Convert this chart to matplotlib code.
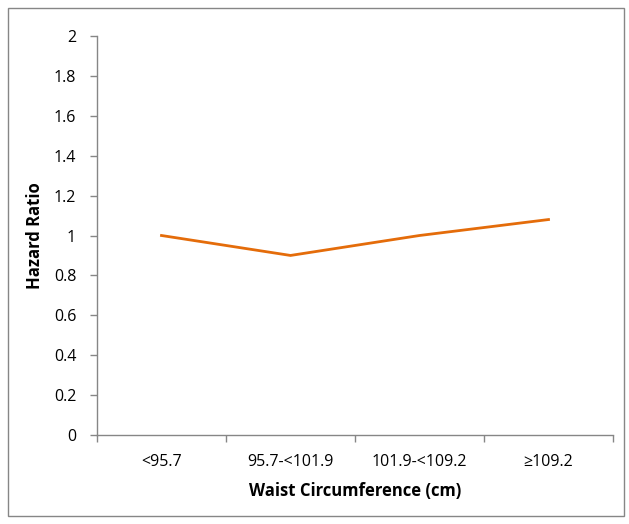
import matplotlib
matplotlib.use("Agg")
import matplotlib.pyplot as plt
from matplotlib.patches import Rectangle
import numpy as np

categories = ["<95.7", "95.7-<101.9", "101.9-<109.2", "≥109.2"]
hazard_ratio = [1.0, 0.9, 1.0, 1.08]
y_ticks = [0, 0.2, 0.4, 0.6, 0.8, 1, 1.2, 1.4, 1.6, 1.8, 2]
y_tick_labels = ["0", "0.2", "0.4", "0.6", "0.8", "1", "1.2", "1.4", "1.6", "1.8", "2"]

plt.rcParams['font.family'] = ['Open Sans', 'DejaVu Sans']
W, H = 629, 524
fig = plt.figure(figsize=(W/100, H/100), dpi=100)
ax = fig.add_axes([97/W, (H-435)/H, (613-97)/W, (435-36)/H])

x = np.arange(len(categories))
ax.plot(x, hazard_ratio, color="#E46C0A", lw=2, solid_joinstyle='miter')

ax.set_xlim(-0.5, len(categories) - 0.5)
ax.set_ylim(0, 2)
ax.set_yticks(y_ticks)
ax.set_yticklabels(y_tick_labels, fontsize=11.5)
ax.set_xticks(x)
ax.set_xticklabels(categories, fontsize=11.5)
ax.set_xticks(np.arange(-0.5, len(categories), 1), minor=True)
ax.tick_params(axis='x', which='major', length=0, pad=14)
ax.tick_params(axis='x', which='minor', length=5, color="#868686", width=1, direction='out')
ax.tick_params(axis='y', length=5, color="#868686", width=1, direction='out', pad=10)

for s in ['top', 'right']:
    ax.spines[s].set_visible(False)
for s in ['left', 'bottom']:
    ax.spines[s].set_color("#868686")
    ax.spines[s].set_linewidth(1)

ax.set_ylabel("Hazard Ratio", fontsize=12, fontweight='bold', labelpad=7)
ax.set_xlabel("Waist Circumference (cm)", fontsize=12, fontweight='bold', labelpad=8)

fig.patches.append(Rectangle((8/W, 8/H), (624-8)/W, (516-8)/H, transform=fig.transFigure,
                             fill=False, edgecolor="#868686", lw=1))

fig.savefig("out.png", dpi=100)
